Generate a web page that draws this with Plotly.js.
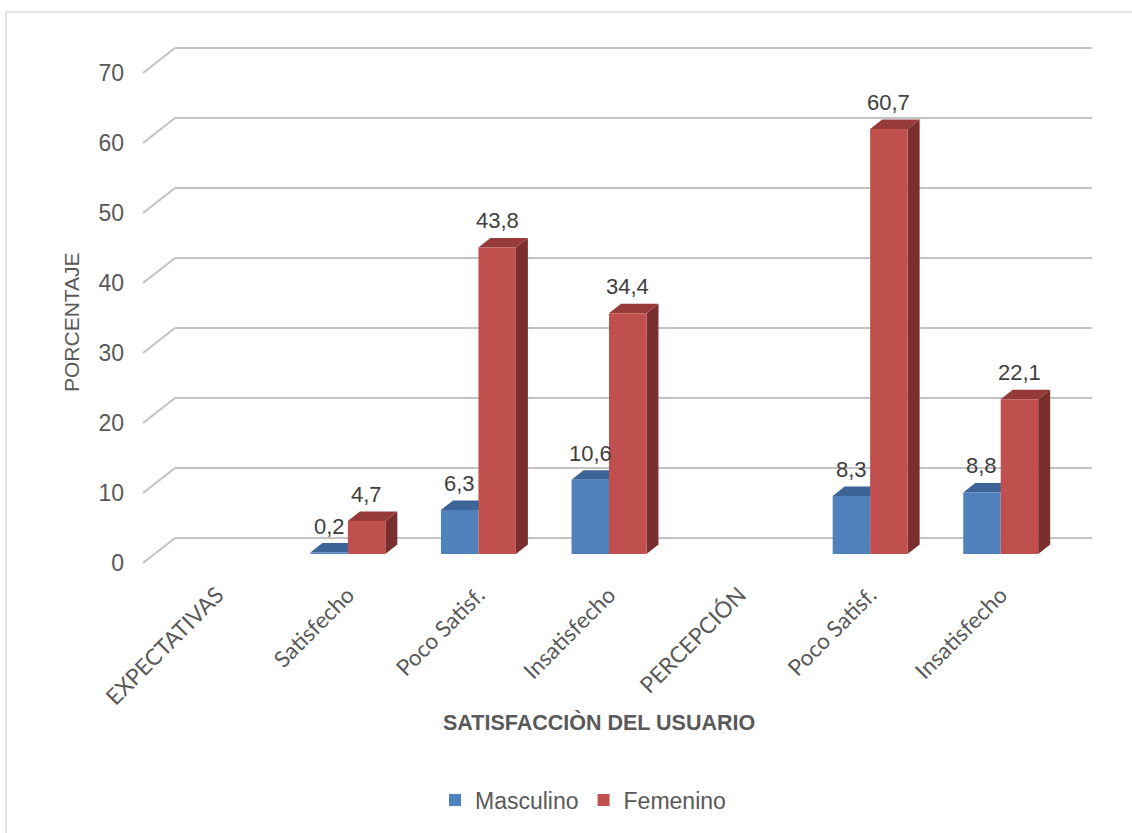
<!DOCTYPE html>
<html>
<head>
<meta charset="utf-8">
<script src="https://cdn.plot.ly/plotly-3.0.1.min.js"></script>
<style>html,body{margin:0;padding:0;background:#fff;}#chart{width:1132px;height:833px;}</style>
</head>
<body>
<div id="chart"></div>
<script>
// ---- data ----
var categories = ["EXPECTATIVAS", "Satisfecho", "Poco Satisf.", "Insatisfecho", "PERCEPCIÓN", "Poco Satisf.", "Insatisfecho"];
var masculino = [null, 0.2, 6.3, 10.6, null, 8.3, 8.8];
var femenino  = [null, 4.7, 43.8, 34.4, null, 60.7, 22.1];
var seriesNames = ["Masculino", "Femenino"];
var yTicks = [0, 10, 20, 30, 40, 50, 60, 70];

// ---- layout geometry ----
var W = 1132, H = 833;
var NARROW = "'Liberation Sans Narrow', 'Arial Narrow', 'Liberation Sans', Arial, sans-serif";
var xIdx = categories.map(function (_, i) { return i; });
var xDomPx = [152, 1066];
var yRange = [-1.5, 72.5];
var pxPerY = 7;           // vertical pixels per unit
var zeroPx = 554;         // pixel row of y=0 on the bar plane
var yDom = [1 - (zeroPx - yRange[0] * pxPerY) / H, 1 - (zeroPx - yRange[1] * pxPerY) / H];
var bargap = 0.426;
var w = (1 - bargap) / 2;                       // single bar width in x units
var pxPerX = (xDomPx[1] - xDomPx[0]) / categories.length;
var dx = 12 / pxPerX, dy = 9.5 / pxPerY;        // bar depth offsets
var backDy = 16 / pxPerY, frontDy = -9 / pxPerY; // wall grid offsets

var blue = "#4f81bd", blueTop = "#3c6496";
var red = "#c0504d", redTop = "#953a38", redSide = "#7a2f2e";

var traces = [
  { type: "bar", name: seriesNames[0], x: xIdx, y: masculino, marker: { color: blue, line: { width: 0 } }, hoverinfo: "y" },
  { type: "bar", name: seriesNames[1], x: xIdx, y: femenino, marker: { color: red, line: { width: 0 } }, hoverinfo: "y" }
];

var shapes = [];
// frame (top + left edges)
shapes.push({ type: "rect", xref: "paper", yref: "paper", x0: 6 / W, x1: 1.02, y0: -0.02, y1: 1 - 12 / H, line: { color: "#d9d9d9", width: 1.5 }, layer: "below" });
// back-wall gridlines and side-wall diagonals
yTicks.forEach(function (v) {
  shapes.push({ type: "line", xref: "paper", yref: "y", x0: 175 / W, x1: 1092 / W, y0: v + backDy, y1: v + backDy, line: { color: "#c3c3c3", width: 2.2 }, layer: "below" });
  shapes.push({ type: "line", xref: "paper", yref: "y", x0: 143 / W, x1: 175 / W, y0: v + frontDy, y1: v + backDy, line: { color: "#c3c3c3", width: 2.2 }, layer: "below" });
});
// 3D faces of the bars
function poly(pts) {
  return "M" + pts.map(function (p) { return p[0] + "," + p[1]; }).join(" L") + " Z";
}
xIdx.forEach(function (i) {
  var m = masculino[i], f = femenino[i];
  if (m !== null) {
    shapes.push({ type: "path", xref: "x", yref: "y", layer: "below", line: { width: 0 }, fillcolor: blueTop,
      path: poly([[i - w, m], [i - w + dx, m + dy], [i + dx, m + dy], [i, m]]) });
  }
  if (f !== null) {
    shapes.push({ type: "path", xref: "x", yref: "y", layer: "below", line: { width: 0 }, fillcolor: redSide,
      path: poly([[i + w, 0], [i + w + dx, dy], [i + w + dx, f + dy], [i + w, f]]) });
    shapes.push({ type: "path", xref: "x", yref: "y", layer: "below", line: { width: 0 }, fillcolor: redTop,
      path: poly([[i, f], [i + dx, f + dy], [i + w + dx, f + dy], [i + w, f]]) });
  }
});

function fmt(v) { return v.toFixed(1).replace(".", ","); }
var annotations = [];
xIdx.forEach(function (i) {
  [[masculino[i], i - w / 2], [femenino[i], i + w / 2]].forEach(function (pair) {
    if (pair[0] === null) return;
    annotations.push({ x: pair[1], y: pair[0], xref: "x", yref: "y", text: fmt(pair[0]), showarrow: false,
      yanchor: "bottom", yshift: 12, font: { family: NARROW, size: 22, color: "#404040" } });
  });
});
annotations.push({ xref: "paper", yref: "paper", x: 72 / W, y: 1 - 322 / H, text: "PORCENTAJE", textangle: -90, showarrow: false,
  xanchor: "center", yanchor: "middle", font: { family: NARROW, size: 21, color: "#595959" } });
annotations.push({ xref: "paper", yref: "paper", x: 599 / W, y: 1 - 722 / H, text: "<b>SATISFACCIÒN DEL USUARIO</b>", showarrow: false,
  xanchor: "center", yanchor: "middle", font: { family: NARROW, size: 21.5, color: "#595959" } });

var layout = {
  width: W, height: H,
  margin: { l: 0, r: 0, t: 0, b: 0 },
  paper_bgcolor: "#ffffff", plot_bgcolor: "rgba(0,0,0,0)",
  barmode: "group", bargap: bargap, bargroupgap: 0,
  showlegend: true,
  legend: { orientation: "h", x: 583 / W, xanchor: "center", y: 1 - 800 / H, yanchor: "middle",
    font: { family: NARROW, size: 23, color: "#595959" }, itemwidth: 30, traceorder: "normal" },
  xaxis: { domain: [xDomPx[0] / W, xDomPx[1] / W], range: [-0.5, 6.5], tickvals: xIdx, ticktext: categories,
    tickangle: -45, showgrid: false, zeroline: false, showline: false, ticks: "", ticklabelstandoff: 12,
    tickfont: { family: "Lato, 'Open Sans', sans-serif", size: 22.5, color: "#595959" }, fixedrange: true },
  yaxis: { domain: yDom, range: yRange, tickvals: yTicks, ticktext: yTicks.map(String), showgrid: false, zeroline: false,
    showline: false, ticks: "", ticklabelshift: 9, ticklabelstandoff: 27,
    tickfont: { family: NARROW, size: 23, color: "#595959" }, fixedrange: true },
  shapes: shapes,
  annotations: annotations
};

Plotly.newPlot("chart", traces, layout, { displayModeBar: false, staticPlot: true });
</script>
</body>
</html>
